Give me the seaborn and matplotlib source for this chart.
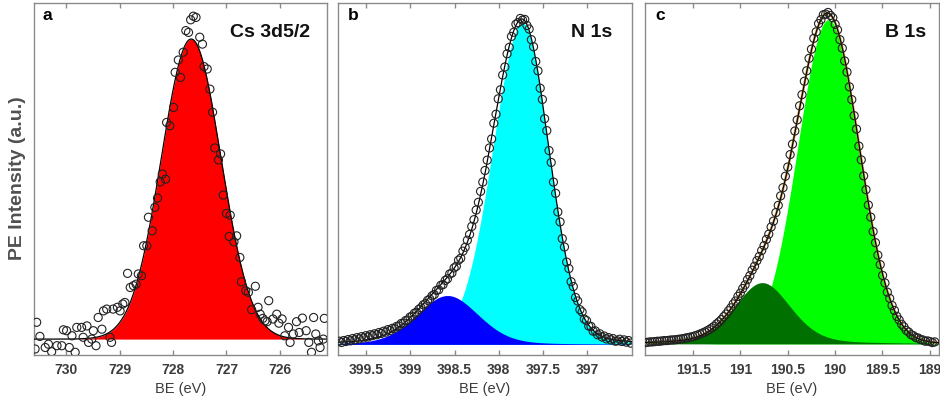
import numpy as np
import matplotlib
matplotlib.use("Agg")
import matplotlib.pyplot as plt
import seaborn as sns

sns.set_style("white")
plt.rcParams["font.family"] = ["Liberation Sans", "DejaVu Sans"]

# ---------------- Cs 3d5/2 ----------------
cs_energy = [730.55, 730.49, 730.58, 730.39, 730.33, 730.27, 730.17, 730.08, 730.05, 729.99,
             729.94, 729.89, 729.83, 729.80, 729.71, 729.68, 729.61, 729.58, 729.52, 729.49,
             729.44, 729.40, 729.33, 729.30, 729.24, 729.18, 729.15, 729.12, 729.04, 728.99,
             728.94, 728.90, 728.85, 728.80, 728.74, 728.69, 728.65, 728.59, 728.55, 728.49,
             728.46, 728.39, 728.34, 728.29, 728.24, 728.20, 728.14, 728.12, 728.06, 727.99,
             727.96, 727.90, 727.86, 727.81, 727.76, 727.71, 727.67, 727.62, 727.57, 727.50,
             727.45, 727.42, 727.36, 727.31, 727.26, 727.22, 727.15, 727.11, 727.06, 727.00,
             726.93, 726.95, 726.86, 726.81, 726.75, 726.72, 726.64, 726.59, 726.53, 726.46,
             726.41, 726.37, 726.32, 726.28, 726.24, 726.21, 726.13, 726.06, 726.02, 725.96,
             725.91, 725.84, 725.81, 725.75, 725.69, 725.64, 725.58, 725.51, 725.46, 725.41,
             725.37, 725.33, 725.28, 725.25, 725.19, 725.17]
cs_intensity = [0.056, 0.009, -0.033, -0.028, -0.017, -0.042, -0.022, -0.022, 0.031, 0.028,
                -0.028, 0.011, -0.044, 0.039, 0.039, 0.006, 0.044, -0.011, 0.000, 0.028,
                -0.022, 0.072, 0.033, 0.094, 0.100, 0.006, -0.011, 0.100, 0.106, 0.094,
                0.117, 0.122, 0.219, 0.172, 0.178, 0.183, 0.217, 0.211, 0.311, 0.311,
                0.406, 0.361, 0.439, 0.470, 0.524, 0.550, 0.533, 0.722, 0.711, 0.772,
                0.889, 0.930, 0.872, 0.956, 1.028, 1.022, 1.064, 1.076, 1.072, 1.006,
                0.983, 0.908, 0.900, 0.833, 0.756, 0.637, 0.597, 0.617, 0.480, 0.419,
                0.413, 0.342, 0.324, 0.344, 0.272, 0.191, 0.161, 0.156, 0.098, 0.176,
                0.106, 0.083, 0.069, 0.061, 0.058, 0.128, 0.067, 0.083, 0.053, 0.067,
                0.011, 0.039, -0.011, 0.017, 0.058, 0.022, 0.070, 0.028, -0.011, -0.044,
                0.072, 0.017, -0.006, -0.028, 0.000, 0.069]
# fitted components: center, height, sigma (low-BE side), sigma (high-BE side), Lorentzian fraction
cs_components = [(727.66, 1.00, 0.556, 0.556, 0.0)]
cs_colors = ["#ff0000"]

# ---------------- N 1s ----------------
n_energy = np.linspace(396.505, 399.805, 133)
n_intensity = [0.004, 0.012, 0.007, 0.014, 0.009, 0.016, 0.011, 0.010, 0.018, 0.014,
               0.021, 0.017, 0.026, 0.023, 0.033, 0.030, 0.042, 0.041, 0.056, 0.057,
               0.074, 0.079, 0.101, 0.108, 0.135, 0.146, 0.180, 0.195, 0.236, 0.256,
               0.303, 0.329, 0.381, 0.412, 0.470, 0.505, 0.566, 0.603, 0.665, 0.702,
               0.762, 0.797, 0.851, 0.880, 0.926, 0.948, 0.981, 0.992, 1.011, 1.009,
               1.014, 1.001, 0.996, 0.971, 0.958, 0.924, 0.904, 0.863, 0.838, 0.792,
               0.764, 0.716, 0.688, 0.639, 0.611, 0.573, 0.541, 0.505, 0.476, 0.442,
               0.418, 0.388, 0.367, 0.342, 0.324, 0.302, 0.290, 0.268, 0.262, 0.243,
               0.238, 0.222, 0.219, 0.204, 0.199, 0.186, 0.184, 0.170, 0.168, 0.155,
               0.151, 0.141, 0.137, 0.127, 0.123, 0.114, 0.109, 0.100, 0.097, 0.088,
               0.085, 0.076, 0.074, 0.066, 0.065, 0.057, 0.056, 0.049, 0.050, 0.043,
               0.046, 0.038, 0.041, 0.034, 0.037, 0.030, 0.033, 0.027, 0.030, 0.023,
               0.027, 0.020, 0.024, 0.017, 0.021, 0.014, 0.018, 0.011, 0.015, 0.009,
               0.012, 0.006, 0.010]
n_components = [(397.73, 1.000, 0.30, 0.34, 0.1),
                 (398.58, 0.152, 0.35, 0.35, 0.2)]
n_colors = ["#00ffff", "#0000ff"]

# ---------------- B 1s ----------------
b_energy = np.linspace(188.945, 192.005, 123)
b_intensity = [0.006, 0.004, 0.007, 0.009, 0.008, 0.012, 0.013, 0.018, 0.019, 0.025,
               0.028, 0.036, 0.041, 0.052, 0.060, 0.073, 0.084, 0.102, 0.117, 0.139,
               0.158, 0.186, 0.209, 0.242, 0.271, 0.309, 0.343, 0.387, 0.424, 0.471,
               0.513, 0.562, 0.604, 0.656, 0.697, 0.746, 0.785, 0.830, 0.864, 0.903,
               0.929, 0.959, 0.976, 0.996, 1.003, 1.012, 1.007, 1.005, 0.990, 0.978,
               0.953, 0.933, 0.900, 0.872, 0.834, 0.802, 0.761, 0.727, 0.684, 0.650,
               0.610, 0.578, 0.540, 0.512, 0.477, 0.452, 0.423, 0.401, 0.375, 0.357,
               0.335, 0.319, 0.300, 0.285, 0.267, 0.254, 0.237, 0.225, 0.208, 0.196,
               0.180, 0.169, 0.155, 0.145, 0.131, 0.122, 0.110, 0.101, 0.091, 0.083,
               0.074, 0.067, 0.061, 0.054, 0.049, 0.044, 0.040, 0.036, 0.033, 0.030,
               0.027, 0.025, 0.022, 0.021, 0.019, 0.018, 0.016, 0.015, 0.014, 0.013,
               0.012, 0.012, 0.011, 0.010, 0.010, 0.009, 0.008, 0.008, 0.007, 0.006,
               0.006, 0.005, 0.004]
b_components = [(190.07, 0.990, 0.325, 0.325, 0.0),
                (190.77, 0.187, 0.30, 0.30, 0.3)]
b_colors = ["#00ff00", "#007000"]

# axis settings per panel
cs_ticks = [730, 729, 728, 727, 726]
cs_ticklabels = ["730", "729", "728", "727", "726"]
n_ticks = [399.5, 399, 398.5, 398, 397.5, 397]
n_ticklabels = ["399.5", "399", "398.5", "398", "397.5", "397"]
b_ticks = [191.5, 191, 190.5, 190, 189.5, 189]
b_ticklabels = ["191.5", "191", "190.5", "190", "189.5", "189"]


def peak_shape(e, center, height, sig_lo, sig_hi, eta):
    """Pseudo-Voigt line, optionally with different widths on each side."""
    sig = np.where(e < center, sig_lo, sig_hi)
    d = e - center
    gauss = np.exp(-d ** 2 / (2 * sig ** 2))
    hwhm = sig * np.sqrt(2 * np.log(2))
    lorentz = 1.0 / (1.0 + (d / hwhm) ** 2)
    return height * ((1 - eta) * gauss + eta * lorentz)


FRAME = "#8a8a8a"
TXT = "#3c3c3c"


def draw_panel(ax, energy, intensity, components, colors, xlim, ylim,
               ticks, ticklabels, letter, title, title_x, halo=False):
    grid = np.linspace(min(xlim), max(xlim), 1500)
    total = np.zeros_like(grid)
    for comp, col in zip(components, colors):
        y = peak_shape(grid, *comp)
        ax.fill_between(grid, 0, y, color=col, lw=0, zorder=1)
        total += y
    if halo:
        sns.lineplot(x=grid, y=total, ax=ax, color="#d9a048", lw=1.8,
                     sort=False, estimator=None, zorder=2)
    sns.lineplot(x=grid, y=total, ax=ax, color="black", lw=0.9,
                 sort=False, estimator=None, zorder=3)
    sns.scatterplot(x=np.asarray(energy), y=np.asarray(intensity), ax=ax,
                    marker="o", s=34, facecolor="none", edgecolor="#222222",
                    linewidth=0.8, zorder=4)

    ax.set_xlim(xlim)
    ax.set_ylim(ylim)
    ax.set_yticks([])
    ax.set_ylabel("")
    ax.set_xticks(ticks)
    ax.set_xticklabels(ticklabels, fontweight="bold", fontsize=10, color=TXT)
    ax.tick_params(axis="x", direction="in", length=3.5, width=1.0,
                   color=FRAME, top=True, bottom=True, pad=5)
    for sp in ax.spines.values():
        sp.set_color(FRAME)
        sp.set_linewidth(1.0)
        sp.set_visible(True)
    ax.set_xlabel("BE (eV)", fontsize=10.5, color=TXT, labelpad=4)
    ax.text(0.046 if letter == "a" else 0.051, 0.966, letter, transform=ax.transAxes,
            ha="center", va="center", fontsize=12.5, fontweight="bold", color="black")
    ax.text(title_x, 0.918, title, transform=ax.transAxes, ha="right", va="center",
            fontsize=14, fontweight="bold", color="#111111")


fig = plt.figure(figsize=(9.4, 4.02), dpi=100)
W, H = 940.0, 402.0
top_px, bot_px = 4, 356


def axes_at(left_px, right_px):
    return fig.add_axes([left_px / W, (H - bot_px) / H,
                         (right_px - left_px) / W, (bot_px - top_px) / H])


ax_a = axes_at(34, 327)
ax_b = axes_at(338, 632)
ax_c = axes_at(645, 939)

draw_panel(ax_a, cs_energy, cs_intensity, cs_components, cs_colors,
           (730.6, 725.12), (-0.053, 1.12), cs_ticks, cs_ticklabels,
           "a", "Cs 3d5/2", 0.942)
draw_panel(ax_b, n_energy, n_intensity, n_components, n_colors,
           (399.82, 396.49), (-0.033, 1.062), n_ticks, n_ticklabels,
           "b", "N 1s", 0.932)
draw_panel(ax_c, b_energy, b_intensity, b_components, b_colors,
           (192.01, 188.9), (-0.034, 1.041), b_ticks, b_ticklabels,
           "c", "B 1s", 0.956, halo=True)

fig.text(0.019, 0.556, "PE Intensity (a.u.)", rotation=90, ha="center", va="center",
         fontsize=14, fontweight="bold", color="#505050")

fig.savefig("out.png", dpi=100)
